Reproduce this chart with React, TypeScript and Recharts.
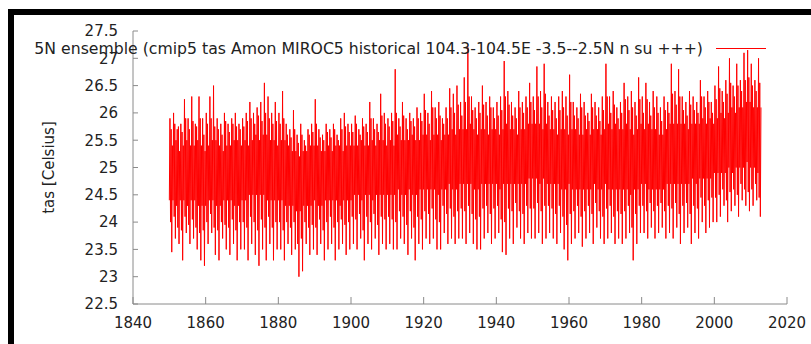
import { LineChart, Line, XAxis, YAxis } from 'recharts';

// monthly tas, shown here as yearly extremes, second peaks and the edges of the dense band
const firstYear = 1850;

const yearHigh = [
  25.9, 26.0, 25.7, 25.8, 26.25, 25.9, 26.3, 25.8, 26.3, 25.9,
  26.0, 26.3, 26.5, 25.9, 25.8, 26.0, 25.8, 25.9, 26.0, 25.8,
  25.9, 26.0, 26.2, 26.0, 26.1, 26.2, 26.55, 26.3, 26.0, 26.2,
  26.0, 26.4, 25.8, 25.7, 26.05, 25.6, 25.8, 25.5, 25.7, 25.8,
  26.25, 25.7, 25.6, 25.8, 25.7, 25.8, 25.6, 25.9, 26.0, 25.8,
  25.8, 25.95, 25.7, 25.9, 25.8, 26.2, 25.9, 25.8, 26.35, 26.0,
  25.9, 26.0, 26.8, 25.9, 26.2, 25.9, 26.0, 25.9, 26.1, 26.0,
  26.35, 26.0, 26.4, 26.1, 26.2, 25.9, 26.1, 26.45, 26.35, 26.5,
  26.2, 26.65, 27.2, 26.3, 26.1, 26.2, 26.5, 26.2, 26.3, 26.1,
  26.2, 26.3, 26.95, 26.4, 26.2, 26.1, 26.4, 26.2, 26.3, 26.55,
  26.3, 26.85, 26.4, 26.9, 26.2, 26.3, 26.2, 26.3, 26.4, 26.3,
  26.7, 26.2, 26.1, 26.35, 26.2, 26.0, 26.35, 26.2, 26.1, 26.3,
  26.9, 26.3, 26.4, 26.1, 26.2, 26.55, 26.3, 26.4, 26.2, 26.65,
  26.3, 26.55, 26.2, 26.4, 26.3, 26.1, 26.3, 26.2, 26.9, 26.4,
  26.8, 26.3, 26.2, 26.4, 26.3, 26.2, 26.6, 26.3, 26.4, 26.2,
  26.5, 26.85, 26.4, 26.6, 27.0, 26.5, 26.9, 26.6, 27.1, 27.15,
  26.9, 26.6, 27.0,
];

const yearLow = [
  23.45, 23.7, 23.6, 23.3, 23.8, 23.6, 23.7, 23.5, 23.3, 23.2,
  23.6, 23.8, 23.4, 23.3, 23.7, 23.5, 23.4, 23.6, 23.3, 23.5,
  23.5, 23.3, 23.6, 23.4, 23.2, 23.5, 23.3, 23.6, 23.3, 23.5,
  23.5, 23.3, 23.6, 23.4, 23.5, 23.0, 23.1, 23.6, 23.4, 23.5,
  23.4, 23.6, 23.3, 23.5, 23.6, 23.3, 23.5, 23.6, 23.4, 23.5,
  23.6, 23.5, 23.7, 23.3, 23.6, 23.5, 23.7, 23.4, 23.6, 23.5,
  23.6, 23.5, 23.5, 23.7, 23.6, 23.4, 23.7, 23.3, 23.6, 23.5,
  23.7, 23.6, 23.7, 23.5, 23.5, 23.8, 23.6, 23.7, 23.6, 23.7,
  23.7, 23.6, 23.8, 23.6, 23.5, 23.5, 23.7, 23.8, 23.6, 23.7,
  23.8, 23.45, 23.4, 23.7, 23.6, 23.9, 23.7, 23.6, 23.8, 23.7,
  23.7, 23.8, 23.6, 23.7, 23.8, 23.7, 23.6, 23.8, 23.5, 23.3,
  23.6, 23.7, 23.8, 23.55, 23.7, 23.8, 23.6, 23.9, 23.7, 23.6,
  23.7, 23.8, 23.6, 23.7, 23.6, 23.7, 23.8, 23.3, 23.6, 23.8,
  23.8, 23.7, 23.9, 23.7, 23.8, 23.9, 23.7, 23.8, 23.7, 23.9,
  23.6, 23.8, 23.9, 23.6, 23.8, 23.7, 24.0, 23.8, 23.9, 24.0,
  24.0, 24.1, 24.3, 24.0, 24.2, 24.3, 24.1, 24.4, 24.3, 24.2,
  24.3, 24.4, 24.1,
];

const secondHigh = [
  25.7, 25.8, 25.75, 25.65, 25.9, 25.7, 25.85, 25.75, 25.9, 25.6,
  25.8, 25.9, 25.75, 25.7, 25.6, 25.85, 25.65, 25.8, 25.75, 25.7,
  25.75, 25.85, 25.9, 25.8, 25.95, 25.85, 26.0, 25.9, 25.8, 25.85,
  25.8, 25.9, 25.6, 25.55, 25.7, 25.45, 25.6, 25.4, 25.6, 25.65,
  25.8, 25.55, 25.5, 25.65, 25.55, 25.7, 25.5, 25.7, 25.75, 25.65,
  25.65, 25.8, 25.6, 25.75, 25.65, 25.9, 25.7, 25.65, 25.95, 25.8,
  25.75, 25.85, 26.0, 25.75, 25.95, 25.7, 25.85, 25.75, 25.9, 25.85,
  26.05, 25.8, 26.1, 25.9, 25.95, 25.8, 25.9, 26.1, 26.0, 26.15,
  25.95, 26.2, 26.3, 26.05, 25.9, 26.0, 26.15, 25.95, 26.1, 25.9,
  25.95, 26.05, 26.3, 26.15, 25.95, 25.9, 26.1, 26.0, 26.1, 26.2,
  26.05, 26.3, 26.1, 26.35, 25.95, 26.05, 25.9, 26.05, 26.1, 25.95,
  26.2, 25.95, 25.9, 26.1, 25.95, 25.85, 26.1, 25.95, 25.85, 26.05,
  26.3, 26.0, 26.15, 25.9, 26.0, 26.25, 26.05, 26.1, 25.95, 26.25,
  26.0, 26.25, 25.95, 26.1, 26.0, 25.85, 26.05, 26.0, 26.35, 26.15,
  26.3, 26.05, 25.95, 26.15, 26.05, 26.0, 26.3, 26.1, 26.2, 26.0,
  26.25, 26.45, 26.2, 26.35, 26.55, 26.3, 26.5, 26.4, 26.6, 26.65,
  26.5, 26.4, 26.55,
];

const secondLow = [
  24.0, 24.1, 23.9, 23.85, 24.1, 23.95, 24.05, 23.9, 23.8, 23.85,
  24.0, 24.15, 23.9, 23.85, 24.0, 23.95, 23.9, 24.05, 23.85, 24.0,
  24.0, 23.9, 24.1, 24.0, 23.85, 24.05, 23.9, 24.1, 23.9, 24.0,
  24.0, 23.85, 24.0, 23.9, 24.0, 23.6, 23.7, 24.0, 23.9, 23.95,
  23.9, 24.05, 23.85, 24.0, 24.1, 23.9, 24.0, 24.05, 23.95, 24.0,
  24.1, 24.05, 24.15, 23.85, 24.1, 24.0, 24.15, 23.95, 24.1, 24.05,
  24.1, 24.05, 24.0, 24.2, 24.1, 23.95, 24.2, 23.9, 24.1, 24.05,
  24.2, 24.15, 24.25, 24.05, 24.0, 24.3, 24.15, 24.25, 24.1, 24.2,
  24.25, 24.2, 24.3, 24.15, 24.05, 24.1, 24.25, 24.3, 24.15, 24.25,
  24.3, 24.05, 24.0, 24.25, 24.2, 24.35, 24.2, 24.15, 24.3, 24.25,
  24.25, 24.35, 24.2, 24.3, 24.3, 24.25, 24.15, 24.3, 24.1, 23.95,
  24.15, 24.2, 24.3, 24.1, 24.2, 24.3, 24.15, 24.35, 24.2, 24.1,
  24.25, 24.3, 24.1, 24.2, 24.15, 24.2, 24.3, 23.9, 24.15, 24.3,
  24.3, 24.2, 24.35, 24.2, 24.3, 24.35, 24.2, 24.3, 24.25, 24.35,
  24.15, 24.3, 24.35, 24.15, 24.3, 24.25, 24.45, 24.3, 24.4, 24.45,
  24.45, 24.5, 24.6, 24.4, 24.55, 24.6, 24.5, 24.7, 24.6, 24.55,
  24.6, 24.7, 24.45,
];

const bandHigh = [
  25.4, 25.5, 25.3, 25.4, 25.5, 25.4, 25.4, 25.5, 25.4, 25.3,
  25.4, 25.5, 25.5, 25.4, 25.3, 25.4, 25.4, 25.5, 25.5, 25.4,
  25.5, 25.4, 25.5, 25.6, 25.5, 25.6, 25.6, 25.5, 25.5, 25.4,
  25.5, 25.5, 25.4, 25.3, 25.3, 25.2, 25.3, 25.3, 25.4, 25.4,
  25.4, 25.3, 25.3, 25.4, 25.3, 25.4, 25.4, 25.3, 25.4, 25.4,
  25.4, 25.4, 25.5, 25.4, 25.4, 25.5, 25.4, 25.5, 25.5, 25.4,
  25.5, 25.4, 25.6, 25.5, 25.5, 25.5, 25.6, 25.5, 25.5, 25.6,
  25.6, 25.5, 25.6, 25.6, 25.5, 25.6, 25.6, 25.7, 25.6, 25.7,
  25.7, 25.7, 25.8, 25.7, 25.6, 25.7, 25.7, 25.6, 25.7, 25.7,
  25.6, 25.7, 25.8, 25.7, 25.7, 25.6, 25.7, 25.7, 25.8, 25.8,
  25.8, 25.8, 25.7, 25.8, 25.7, 25.7, 25.6, 25.7, 25.7, 25.6,
  25.7, 25.7, 25.6, 25.6, 25.7, 25.6, 25.7, 25.7, 25.6, 25.7,
  25.8, 25.7, 25.8, 25.7, 25.7, 25.8, 25.7, 25.6, 25.7, 25.8,
  25.7, 25.8, 25.7, 25.7, 25.6, 25.6, 25.7, 25.8, 25.8, 25.8,
  25.8, 25.8, 25.7, 25.8, 25.8, 25.8, 25.9, 25.8, 25.9, 25.8,
  25.9, 26.0, 25.9, 26.0, 26.1, 26.0, 26.1, 26.1, 26.2, 26.2,
  26.1, 26.1, 26.1,
];

const bandLow = [
  24.4, 24.4, 24.3, 24.4, 24.4, 24.3, 24.4, 24.4, 24.3, 24.3,
  24.3, 24.4, 24.4, 24.3, 24.3, 24.4, 24.4, 24.4, 24.3, 24.3,
  24.4, 24.4, 24.5, 24.5, 24.5, 24.5, 24.5, 24.4, 24.4, 24.4,
  24.4, 24.4, 24.3, 24.3, 24.3, 24.2, 24.2, 24.3, 24.3, 24.3,
  24.4, 24.3, 24.3, 24.4, 24.4, 24.4, 24.4, 24.3, 24.4, 24.4,
  24.4, 24.5, 24.5, 24.4, 24.5, 24.5, 24.4, 24.5, 24.5, 24.5,
  24.5, 24.5, 24.5, 24.6, 24.5, 24.5, 24.6, 24.5, 24.5, 24.6,
  24.6, 24.6, 24.6, 24.6, 24.5, 24.6, 24.6, 24.7, 24.6, 24.6,
  24.7, 24.7, 24.7, 24.7, 24.6, 24.6, 24.7, 24.7, 24.7, 24.7,
  24.7, 24.6, 24.7, 24.7, 24.7, 24.7, 24.7, 24.7, 24.7, 24.8,
  24.8, 24.8, 24.7, 24.8, 24.7, 24.7, 24.7, 24.7, 24.6, 24.6,
  24.7, 24.6, 24.6, 24.6, 24.6, 24.6, 24.6, 24.7, 24.6, 24.6,
  24.7, 24.6, 24.6, 24.6, 24.6, 24.6, 24.6, 24.5, 24.6, 24.6,
  24.7, 24.7, 24.6, 24.6, 24.6, 24.6, 24.6, 24.7, 24.7, 24.7,
  24.7, 24.7, 24.7, 24.7, 24.8, 24.7, 24.8, 24.8, 24.8, 24.8,
  24.9, 24.9, 24.9, 24.9, 25.0, 24.9, 25.0, 25.0, 25.0, 25.1,
  25.0, 25.0, 24.9,
];

const xTicks = [1840, 1860, 1880, 1900, 1920, 1940, 1960, 1980, 2000, 2020];
const yTicks = [22.5, 23, 23.5, 24, 24.5, 25, 25.5, 26, 26.5, 27, 27.5];

const title = '5N ensemble (cmip5 tas Amon MIROC5 historical 104.3-104.5E -3.5--2.5N n su +++)';
const yLabel = 'tas [Celsius]';

// six steps per year: band -> high -> second low -> second high -> low -> band
const data = yearHigh.flatMap((hi, i) => {
  const seq = [bandLow[i], hi, secondLow[i], secondHigh[i], yearLow[i], bandHigh[i]];
  return seq.map((tas, k) => ({ t: firstYear + i + k / 6, tas }));
});

const font = 'DejaVu Sans';
const frame = '#8a8a8a';
const tickFont = { fontFamily: font, fontSize: 15, fill: '#222' };

export default function App() {
  return (
    <div style={{ position: 'absolute', left: 0, top: 0, width: 811, height: 344, background: '#fff' }}>
      <div
        style={{
          position: 'absolute', left: 8, top: 9, width: 803, height: 335,
          borderTop: '6px solid #000', borderLeft: '6px solid #000', boxSizing: 'border-box',
        }}
      />
      <LineChart width={811} height={344} data={data} margin={{ top: 31, right: 24, bottom: 10, left: 73 }}>
        <XAxis
          dataKey="t"
          type="number"
          domain={[1840, 2020]}
          ticks={xTicks}
          allowDataOverflow
          height={30}
          stroke={frame}
          tickSize={-7}
          tickMargin={20}
          tick={tickFont}
        />
        <XAxis
          xAxisId="top"
          orientation="top"
          dataKey="t"
          type="number"
          domain={[1840, 2020]}
          ticks={xTicks}
          allowDataOverflow
          height={0}
          stroke={frame}
          tickSize={-7}
          tick={false}
        />
        <YAxis
          type="number"
          domain={[22.5, 27.5]}
          ticks={yTicks}
          allowDataOverflow
          width={60}
          stroke={frame}
          tickSize={-5}
          tickMargin={20}
          tick={tickFont}
        />
        <YAxis
          yAxisId="right"
          orientation="right"
          type="number"
          domain={[22.5, 27.5]}
          ticks={yTicks}
          allowDataOverflow
          width={0}
          stroke={frame}
          tickSize={-5}
          tick={false}
        />
        <Line
          type="linear"
          dataKey="tas"
          stroke="#ff0000"
          strokeWidth={1}
          dot={false}
          isAnimationActive={false}
        />
      </LineChart>
      <svg width={811} height={344} style={{ position: 'absolute', left: 0, top: 0, pointerEvents: 'none' }}>
        <text x={703} y={54} textAnchor="end" fontFamily={font} fontSize={15.7} fill="#222">
          {title}
        </text>
        <line x1={716} x2={766} y1={48.5} y2={48.5} stroke="#ff0000" strokeWidth={1} />
        <text
          x={54}
          y={167.5}
          textAnchor="middle"
          transform="rotate(-90 54 167.5)"
          fontFamily={font}
          fontSize={15}
          fill="#222"
        >
          {yLabel}
        </text>
      </svg>
    </div>
  );
}
